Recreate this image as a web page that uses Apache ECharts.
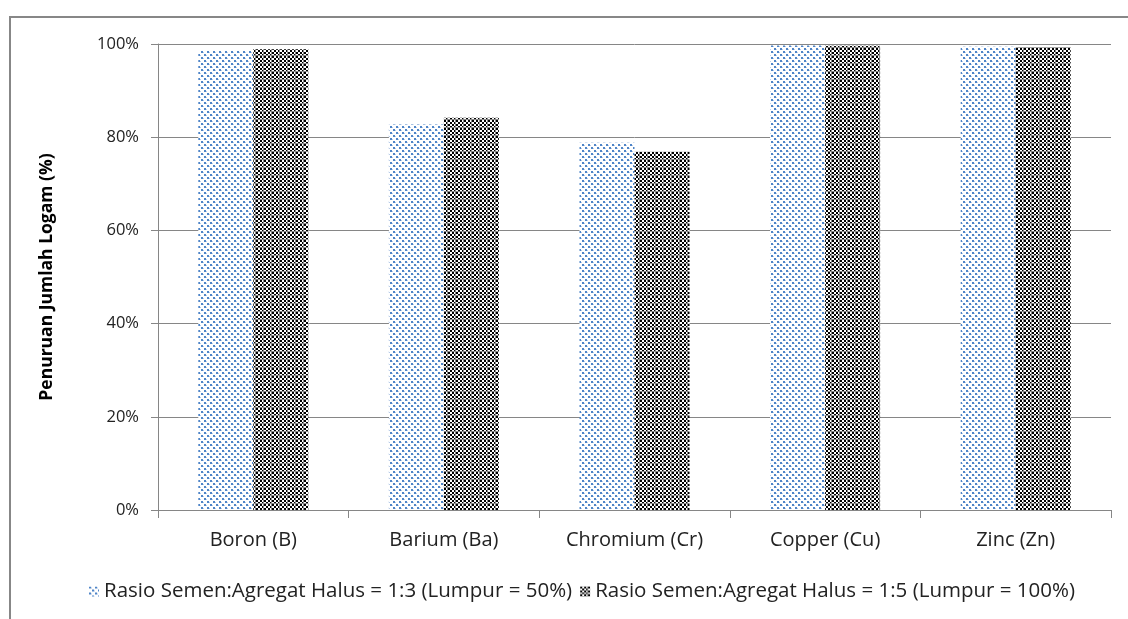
<!DOCTYPE html>
<html>
<head>
<meta charset="utf-8">
<script src="https://cdn.jsdelivr.net/npm/echarts@6/dist/echarts.min.js"></script>
<style>
  html, body { margin: 0; padding: 0; background: #fff; }
  #frame { position: absolute; left: 9px; top: 16px; width: 1130px; height: 620px;
           border-left: 2px solid #878787; border-top: 2px solid #878787; }
  #chart { position: absolute; left: 0; top: 0; width: 1128px; height: 619px; }
</style>
</head>
<body>
<div id="frame"></div>
<div id="chart"></div>
<script>
// Metals and the percentage reduction for each cement:fine-aggregate ratio
const categories = ['Boron (B)', 'Barium (Ba)', 'Chromium (Cr)', 'Copper (Cu)', 'Zinc (Zn)'];
const seriesNames = [
  'Rasio Semen:Agregat Halus = 1:3 (Lumpur = 50%)',
  'Rasio Semen:Agregat Halus = 1:5 (Lumpur = 100%)'
];
const ratio13 = [98.6, 82.7, 78.8, 99.7, 99.4];
const ratio15 = [98.9, 84.2, 76.9, 99.6, 99.3];
const yTicks = [0, 20, 40, 60, 80, 100];

// Blue dotted fill
function dotPattern() {
  const c = document.createElement('canvas');
  c.width = 6; c.height = 6;
  const g = c.getContext('2d');
  g.fillStyle = '#ffffff'; g.fillRect(0, 0, 6, 6);
  g.fillStyle = '#4f85c8';
  g.fillRect(0, 0, 2, 2);
  g.fillRect(3, 3, 2, 2);
  g.fillStyle = '#b9cce8';
  g.fillRect(2, 1, 1, 1);
  g.fillRect(5, 4, 1, 1);
  return c;
}
// Black checkerboard fill with fine grey seams
function checkPattern() {
  const c = document.createElement('canvas');
  c.width = 8; c.height = 8;
  const g = c.getContext('2d');
  g.fillStyle = '#ffffff'; g.fillRect(0, 0, 8, 8);
  g.fillStyle = '#000000';
  for (let y = 0; y < 8; y += 2) {
    for (let x = 0; x < 8; x += 2) {
      if (((x + y) / 2) % 2 === 0) g.fillRect(x, y, 2, 2);
    }
  }
  g.fillStyle = '#8a8a8a';
  g.fillRect(0, 7, 8, 1);
  g.fillRect(7, 0, 1, 8);
  return c;
}

const fill13 = { image: dotPattern(), repeat: 'repeat' };
const fill15 = { image: checkPattern(), repeat: 'repeat' };
const font = 'Open Sans, Noto Sans, sans-serif';

const chart = echarts.init(document.getElementById('chart'), null, { renderer: 'canvas' });
chart.setOption({
  animation: false,
  textStyle: { fontFamily: font },
  grid: { left: 158, right: 17, top: 44, bottom: 109 },
  legend: {
    bottom: 12,
    left: 84,
    itemWidth: 10,
    itemHeight: 10,
    itemGap: 8,
    textStyle: { fontFamily: font, fontSize: 20.5, color: '#222' },
    data: [
      { name: seriesNames[0], icon: 'rect', itemStyle: { color: fill13 } },
      { name: seriesNames[1], icon: 'rect', itemStyle: { color: fill15 } }
    ]
  },
  xAxis: {
    type: 'category',
    data: categories,
    axisLine: { lineStyle: { color: '#868686', width: 1 } },
    axisTick: { show: true, length: 8, alignWithLabel: false, lineStyle: { color: '#868686' } },
    axisLabel: { fontSize: 20, color: '#222', margin: 20 }
  },
  yAxis: {
    type: 'value',
    min: yTicks[0],
    max: yTicks[yTicks.length - 1],
    interval: yTicks[1] - yTicks[0],
    name: 'Penuruan Jumlah Logam (%)',
    nameLocation: 'middle',
    nameGap: 102,
    nameRotate: 90,
    nameTextStyle: { fontSize: 17.5, fontWeight: 'bold', color: '#000' },
    axisLine: { show: true, lineStyle: { color: '#868686', width: 1 } },
    axisTick: { show: true, length: 7, inside: false, lineStyle: { color: '#868686' } },
    axisLabel: { fontSize: 16.5, color: '#222', margin: 19, formatter: '{value}%' },
    splitLine: { lineStyle: { color: '#868686', width: 1 } }
  },
  series: [
    {
      name: seriesNames[0], type: 'bar', data: ratio13,
      barWidth: 55, barGap: '0%',
      itemStyle: { color: fill13 }
    },
    {
      name: seriesNames[1], type: 'bar', data: ratio15,
      barWidth: 55, barGap: '0%',
      itemStyle: { color: fill15 }
    }
  ]
});
</script>
</body>
</html>
